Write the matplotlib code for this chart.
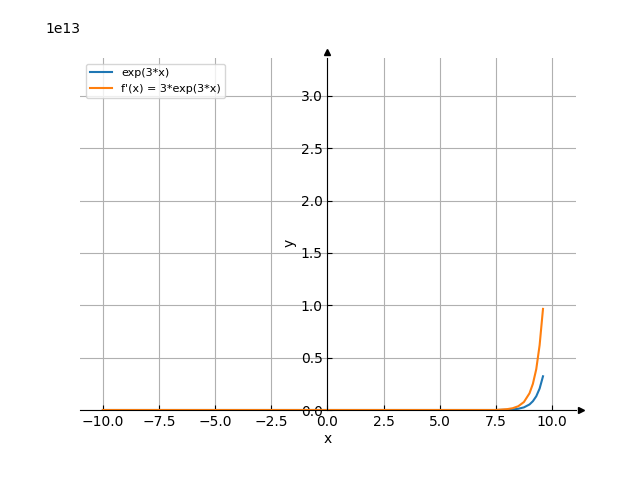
import numpy as np
import matplotlib
matplotlib.use('Agg')
import matplotlib.pyplot as plt
import matplotlib.transforms as mtransforms

# points (y in absolute units, axis shows 1e13)
xs = [-10, -5, 0, 5, 7.5, 8, 8.25, 8.5, 8.75, 9, 9.15, 9.3, 9.45, 9.6]
f_vals = [0, 0, 0, 0, 0.0000006e13, 0.0027e13, 0.0056e13, 0.012e13, 0.025e13,
          0.053e13, 0.084e13, 0.131e13, 0.205e13, 0.322e13]
df_vals = [0, 0, 0, 0, 0.0000018e13, 0.008e13, 0.017e13, 0.036e13, 0.076e13,
           0.16e13, 0.25e13, 0.39e13, 0.62e13, 0.966e13]
labels = ['exp(3*x)', "f'(x) = 3*exp(3*x)"]

fig = plt.figure(figsize=(6.4, 4.8), dpi=100)
ax = fig.add_axes([0.125, 70 / 480, 0.775, 352 / 480])

ax.plot(xs, f_vals, color='#1f77b4', label=labels[0])
ax.plot(xs, df_vals, color='#ff7f0e', label=labels[1])

ax.set_xlim(-11.02, 11.07)
ax.set_ylim(0, 3.363e13)
ax.set_xticks([-10, -7.5, -5, -2.5, 0, 2.5, 5, 7.5, 10])
ax.set_yticks([0, 0.5e13, 1.0e13, 1.5e13, 2.0e13, 2.5e13, 3.0e13])

ax.spines['left'].set_position('zero')
ax.spines['bottom'].set_position('zero')
ax.spines['right'].set_visible(False)
ax.spines['top'].set_visible(False)
ax.tick_params(direction='in')
ax.grid(True)

# arrows at the ends of the axes
off_x = mtransforms.ScaledTranslation(5 / 100, 0, fig.dpi_scale_trans)
off_y = mtransforms.ScaledTranslation(0, 6.5 / 100, fig.dpi_scale_trans)
ax.plot(1, 0, '>k', ms=5, transform=ax.get_yaxis_transform() + off_x, clip_on=False)
ax.plot(0, 1, '^k', ms=5, transform=ax.get_xaxis_transform() + off_y, clip_on=False)

ax.set_xlabel('x', labelpad=2)
ax.set_ylabel('y')
ax.yaxis.set_label_coords(0.436, 0.474)

ax.yaxis.get_offset_text().set_visible(False)
fig.text(45 / 640, 1 - 33 / 480, '1e13', fontsize=10)

ax.legend(loc='upper left', fontsize=8)

fig.savefig('out.png')
